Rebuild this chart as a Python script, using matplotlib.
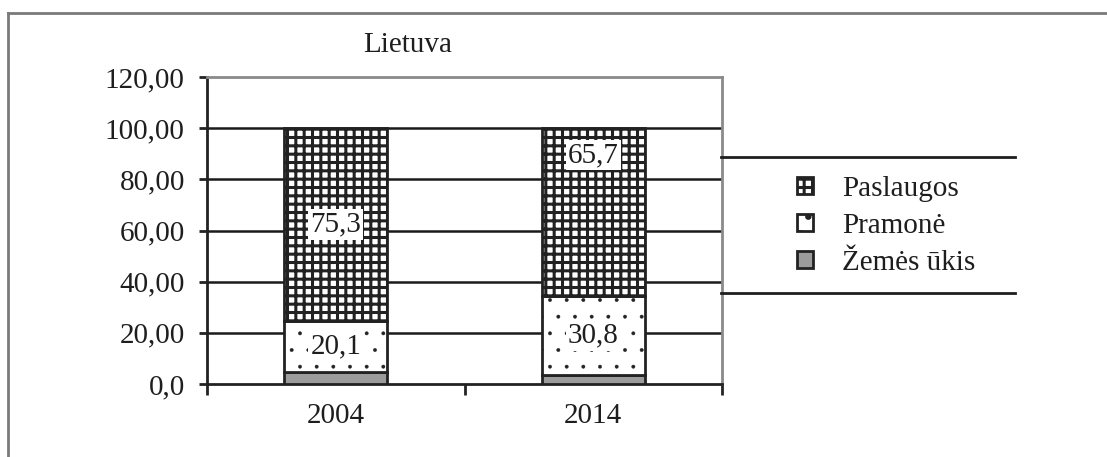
import matplotlib
matplotlib.use("Agg")
import matplotlib.pyplot as plt
from matplotlib.lines import Line2D
import numpy as np

# data
years = ["2004", "2014"]
zemes_ukis = [4.6, 3.5]
pramone = [20.1, 30.8]
paslaugos = [75.3, 65.7]
series_names = ["Žemės ūkis", "Pramonė", "Paslaugos"]
yticks = [0, 20, 40, 60, 80, 100, 120]
ytick_labels = ["0,0", "20,00", "40,00", "60,00", "80,00", "100,00", "120,00"]

plt.rcParams['font.family'] = ['Liberation Serif', 'DejaVu Serif']
plt.rcParams['hatch.linewidth'] = 2.2
plt.rcParams['hatch.color'] = '#111111'
txt = '#1e1e1e'
fs = 21

fig = plt.figure(figsize=(11.07, 4.57), dpi=100)
W, H = 1107, 457
ax = fig.add_axes([207 / W, 1 - 384 / H, 515 / W, 307 / H])

x = np.arange(len(years))
bw = 0.4
b1 = ax.bar(x, zemes_ukis, bw, color='#9c9c9c', edgecolor='#222222', linewidth=2, zorder=3)
b2 = ax.bar(x, pramone, bw, bottom=zemes_ukis, color='white', hatch='.',
            edgecolor='#222222', linewidth=2, zorder=3)
for p in b2:
    try:
        p.set_hatch_linewidth(0.3)
    except AttributeError:
        pass
bottom3 = np.array(zemes_ukis) + np.array(pramone)
b3 = ax.bar(x, paslaugos, bw, bottom=bottom3, color='white', hatch='++',
            edgecolor='#222222', linewidth=2, zorder=3)

# value labels (the 2014 services label sits high in the segment)
lab_frac = [0.5, 0.84]
box = dict(facecolor='white', edgecolor='none', pad=1.5)
for i in range(len(years)):
    ax.text(x[i], zemes_ukis[i] + pramone[i] / 2, f"{pramone[i]:.1f}".replace('.', ','),
            ha='center', va='center', fontsize=fs, color=txt, bbox=box, zorder=5)
    ax.text(x[i], bottom3[i] + paslaugos[i] * lab_frac[i], f"{paslaugos[i]:.1f}".replace('.', ','),
            ha='center', va='center', fontsize=fs, color=txt, bbox=box, zorder=5)

ax.set_xlim(-0.5, len(years) - 0.5)
ax.set_ylim(0, 120)
ax.set_yticks(yticks)
ax.set_yticklabels(ytick_labels, fontsize=fs, color=txt)
ax.set_xticks(x)
ax.set_xticklabels(years, fontsize=fs, color=txt)
ax.set_xticks(np.arange(len(years) + 1) - 0.5, minor=True)
ax.tick_params(axis='x', which='major', length=0, pad=14)
ax.tick_params(axis='x', which='minor', length=8, width=2, color='#222222', direction='out')
ax.tick_params(axis='y', length=6, width=2, color='#222222', pad=10)

for yv in yticks[1:-1]:
    ax.axhline(yv, color='#1a1a1a', linewidth=1.8, zorder=1)
ax.spines['left'].set_color('#222222')
ax.spines['bottom'].set_color('#222222')
ax.spines['left'].set_linewidth(2)
ax.spines['bottom'].set_linewidth(2)
ax.spines['top'].set_color('#8a8a8a')
ax.spines['right'].set_color('#8a8a8a')
ax.spines['top'].set_linewidth(2)
ax.spines['right'].set_linewidth(2)

fig.text(363 / W, 1 - 45 / H, "Lietuva", ha='left', va='center', fontsize=fs, color=txt)

# outer frame
fig.add_artist(Line2D([8 / W, 8 / W], [0, 1 - 13 / H], transform=fig.transFigure,
                      color='#7a7a7a', linewidth=2))
fig.add_artist(Line2D([8 / W, 1], [1 - 13 / H, 1 - 13 / H], transform=fig.transFigure,
                      color='#7a7a7a', linewidth=2))

# legend box (top and bottom rules only)
for yy in (157, 293):
    fig.add_artist(Line2D([721 / W, 1015 / W], [1 - yy / H, 1 - yy / H],
                          transform=fig.transFigure, color='#1e1e1e', linewidth=2))
leg = fig.legend([b3, b2, b1], [series_names[2], series_names[1], series_names[0]],
                 loc='upper left', bbox_to_anchor=(785 / W, 1 - 164 / H), frameon=False,
                 fontsize=fs, handlelength=0.55, handleheight=0.55, handletextpad=1.0,
                 labelspacing=0.38, borderaxespad=0)
for t in leg.get_texts():
    t.set_color(txt)

fig.savefig("out.png", dpi=100)
